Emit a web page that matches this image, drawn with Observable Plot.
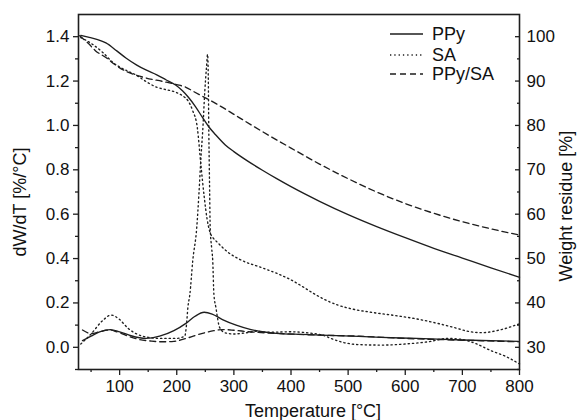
<!DOCTYPE html>
<html>
<head>
<meta charset="utf-8">
<script src="https://cdn.jsdelivr.net/npm/d3@7"></script>
<script src="https://cdn.jsdelivr.net/npm/@observablehq/plot@0.6"></script>
<style>
  html, body { margin: 0; padding: 0; background: #fff; }
  #chart svg { display: block; overflow: visible; }
</style>
</head>
<body>
<div id="chart"></div>
<script>
// ---- Data ----
// Weight residue (TG) curves, in % (right axis)
const ppyTgT   = [32,45,60,76,95,111,130,146,165,181,198,210,220,233,245,256,268,285,300,325,350,375,400,450,500,550,600,650,700,750,800];
const ppyTgW   = [100.3,99.9,99.4,98.6,96.8,95.2,93.6,92.5,91.4,90.3,89.1,87.8,86.4,84.2,81.8,79.7,77.9,75.6,74.1,71.9,69.9,68.0,66.2,62.9,59.9,57.2,54.7,52.3,50.1,47.9,45.8];

const saTgT    = [32,50,70,90,110,128,145,163,180,198,210,220,228,236,242,248,253,258,264,270,290,312,350,380,400,420,440,460,480,505,540,580,620,663,690,710,735,765,800];
const saTgW    = [99.8,98.5,96.5,94.0,92.5,91.4,90.0,88.7,88.1,87.5,86.7,85.5,83.3,79.5,71.5,64.0,59.0,56.0,54.6,53.8,51.4,49.7,47.9,46.4,45.2,43.7,42.1,40.7,39.6,38.7,37.9,37.2,36.4,35.2,34.3,33.6,33.3,33.9,35.3];

const blendTgT = [30,45,58,76,93,111,130,146,176,200,216,230,246,265,281,300,350,400,450,500,550,600,650,700,750,800];
const blendTgW = [100.2,98.5,96.8,95.3,93.6,92.2,91.3,90.7,89.9,89.2,88.6,87.6,86.5,85.2,84.0,82.5,78.6,74.9,71.3,68.0,65.0,62.4,60.2,58.3,56.7,55.3];

// Derivative (DTG) curves, in %/°C (left axis)
const ppyDtgT   = [35,50,65,84,100,120,146,170,195,216,232,248,262,280,304,330,374,420,480,558,620,700,798];
const ppyDtgV   = [0.03,0.05,0.07,0.08,0.07,0.052,0.04,0.05,0.075,0.108,0.14,0.158,0.15,0.125,0.10,0.08,0.063,0.058,0.053,0.045,0.04,0.033,0.027];

const saDtgT    = [32,50,70,85,100,115,130,150,175,198,214,217,219.5,223,228,235,239,242,246,249,252,254,255.3,256,256.8,257.6,258.5,261,263,265,268.5,275,285,300,320,340,360,400,430,455,475,495,520,560,600,640,675,700,725,750,775,800];
const saDtgV    = [0.015,0.06,0.12,0.145,0.125,0.085,0.06,0.045,0.04,0.04,0.05,0.10,0.18,0.24,0.39,0.54,0.70,0.84,1.0,1.15,1.26,1.32,1.2,1.0,0.84,0.70,0.54,0.45,0.39,0.24,0.18,0.09,0.065,0.06,0.065,0.072,0.068,0.07,0.065,0.055,0.035,0.02,0.012,0.01,0.015,0.025,0.04,0.035,0.015,-0.015,-0.04,-0.075];

const blendDtgT = [35,50,65,82,95,115,135,156,175,195,216,245,265,281,300,326,374,450,520,600,700,798];
const blendDtgV = [0.078,0.062,0.07,0.078,0.07,0.05,0.035,0.028,0.025,0.027,0.04,0.063,0.075,0.08,0.077,0.07,0.063,0.055,0.05,0.04,0.032,0.025];

// Axes
const xTicks      = [100,200,300,400,500,600,700,800];
const xMinorTicks = [50,150,250,350,450,550,650,750];
const leftTicks   = [0.0,0.2,0.4,0.6,0.8,1.0,1.2,1.4];
const leftMinor   = [-0.1,0.1,0.3,0.5,0.7,0.9,1.1,1.3];
const rightTicks  = [30,40,50,60,70,80,90,100];
const rightMinor  = [25,35,45,55,65,75,85,95];

const seriesNames = ["PPy","SA","PPy/SA"];
const xLabel = "Temperature [°C]";
const yLeftLabel = "dW/dT [%/°C]";
const yRightLabel = "Weight residue [%]";

// ---- build ----
const toLeft = w => (w - 30) / 50; // right-axis value -> left-axis units
const pairs = (T, V) => T.map((t, i) => ({t, v: V[i]}));

const ink = "#1e1e1e";
const dotted = "1.3,3";
const dashed = "6,4";
const FONT = "'Liberation Sans', Arial, Helvetica, sans-serif";

const lineOpts = (dash, tg) => ({
  x: "t",
  y: tg ? d => toLeft(d.v) : "v",
  stroke: ink,
  strokeWidth: 1.35,
  strokeDasharray: dash,
  curve: "monotone-x"
});

const chart = Plot.plot({
  width: 578,
  height: 420,
  marginTop: 14,
  marginRight: 59,
  marginBottom: 51,
  marginLeft: 78,
  style: {fontFamily: FONT, fontSize: "17px", color: "#111", background: "#fff"},
  x: {domain: [28, 800]},
  y: {domain: [-0.1, 1.5]},
  marks: [
    // data curves
    Plot.line(pairs(ppyTgT, ppyTgW), lineOpts(null, true)),
    Plot.line(pairs(saTgT, saTgW), lineOpts(dotted, true)),
    Plot.line(pairs(blendTgT, blendTgW), lineOpts(dashed, true)),
    Plot.line(pairs(ppyDtgT, ppyDtgV), lineOpts(null, false)),
    Plot.line(pairs(saDtgT, saDtgV), lineOpts(dotted, false)),
    Plot.line(pairs(blendDtgT, blendDtgV), lineOpts(dashed, false)),
    // axes
    Plot.axisX({ticks: xTicks, tickSize: 6, tickPadding: 4, fontSize: 17, label: null, stroke: ink, strokeWidth: 1.3}),
    Plot.axisX({ticks: xMinorTicks, tickSize: 3, tickFormat: () => "", label: null, stroke: ink, strokeWidth: 1.3}),
    Plot.axisY({ticks: leftTicks, tickSize: 5, tickPadding: 4, fontSize: 17, tickFormat: d3.format(".1f"), label: null, stroke: ink, strokeWidth: 1.3}),
    Plot.axisY({ticks: leftMinor, tickSize: 3, tickFormat: () => "", label: null, stroke: ink, strokeWidth: 1.3}),
    Plot.axisY({anchor: "right", ticks: rightTicks.map(toLeft), tickSize: -5, tickPadding: 12, fontSize: 17,
                tickFormat: d => String(Math.round(30 + 50 * d)), label: null, stroke: ink, strokeWidth: 1.3}),
    Plot.axisY({anchor: "right", ticks: rightMinor.map(toLeft), tickSize: -3, tickPadding: 10,
                tickFormat: () => "", label: null, stroke: ink, strokeWidth: 1.3}),
    Plot.frame({stroke: ink, strokeWidth: 1.6}),
    // axis titles
    Plot.text([xLabel], {frameAnchor: "bottom", lineAnchor: "middle", textAnchor: "middle", dy: 42, dx: 14, fontSize: 18, fill: "#111"}),
    Plot.text([yLeftLabel], {frameAnchor: "left", lineAnchor: "middle", textAnchor: "middle", dx: -58, dy: 10, rotate: -90, fontSize: 18, fill: "#111"}),
    Plot.text([yRightLabel], {frameAnchor: "right", lineAnchor: "middle", textAnchor: "middle", dx: 47, dy: 14, rotate: -90, fontSize: 18, fill: "#111"})
  ]
});

document.getElementById("chart").appendChild(chart);

// ---- legend (drawn inside the plot's SVG, top-right) ----
const svg = d3.select(chart);
const legendDash = [null, dotted, dashed];
const legendRows = [34, 55, 74];
const lg = svg.append("g").attr("font-family", FONT).attr("font-size", 18).attr("text-anchor", "start");
seriesNames.forEach((name, i) => {
  lg.append("line")
    .attr("x1", 390).attr("x2", 423)
    .attr("y1", legendRows[i]).attr("y2", legendRows[i])
    .attr("stroke", ink).attr("stroke-width", 1.35)
    .attr("stroke-dasharray", legendDash[i]);
  lg.append("text")
    .attr("x", 432).attr("y", legendRows[i])
    .attr("dy", "0.35em")
    .attr("text-anchor", "start")
    .attr("fill", "#111")
    .text(name);
});
</script>
</body>
</html>
